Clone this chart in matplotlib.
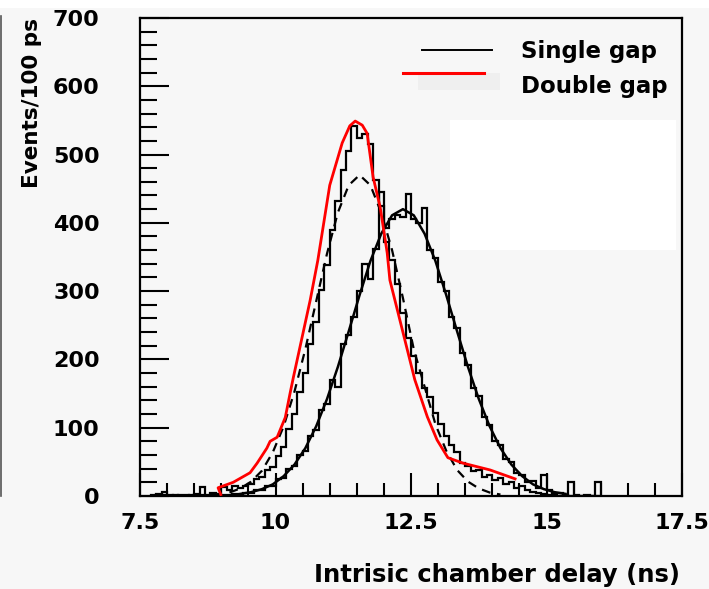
import numpy as np
import matplotlib
matplotlib.use("Agg")
import matplotlib.pyplot as plt
from matplotlib.ticker import MultipleLocator, FixedFormatter, FixedLocator
from matplotlib.patches import Rectangle
from matplotlib.lines import Line2D

# histogram bins (100 ps wide), first bin starts at 7.7 ns
bin_start = 7.7
bin_width = 0.1

# double gap histogram (left peak)
double_gap = [2, 3, 1,
              1, 0, 2, 1, 0, 3, 13, 2, 4, 3,
              13, 8, 14, 12, 15, 18, 25, 28, 38, 42,
              58, 72, 98, 120, 152, 180, 222, 255, 302, 338,
              390, 432, 478, 505, 542, 524, 530, 516, 462, 425,
              372, 345, 310, 268, 232, 205, 180, 158, 145, 122,
              105, 88, 74, 64, 48, 44, 36, 38, 28, 30,
              24, 26, 18, 20, 12, 14, 8, 6, 4, 3,
              2, 1, 0, 1, 0, 0, 0, 0, 0, 0]

# single gap histogram (right peak)
single_gap = [0, 1, 6,
              0, 1, 0, 0, 1, 0, 2, 0, 1, 1,
              2, 1, 3, 2, 5, 4, 9, 8, 14, 15,
              25, 27, 40, 44, 60, 66, 88, 97, 126, 135,
              170, 160, 222, 236, 262, 300, 340, 318, 362, 445,
              392, 405, 412, 408, 442, 406, 400, 422, 360, 348,
              314, 300, 262, 246, 210, 192, 158, 146, 116, 104,
              80, 74, 54, 50, 34, 31, 20, 22, 12, 30,
              9, 5, 4, 2, 20, 1, 0, 1, 0, 20]

# smooth curve drawn over the single gap histogram
fit_x = [9.35, 9.55, 9.75, 9.95, 10.15, 10.35, 10.55, 10.75, 10.95, 11.15,
         11.35, 11.55, 11.75, 11.95, 12.15, 12.35, 12.55, 12.75, 12.95, 13.15,
         13.35, 13.55, 13.75, 13.95, 14.15, 14.35, 14.55, 14.75, 14.95, 15.15, 15.35]
fit_y = [3, 5.5, 10, 17, 29, 46, 70, 102, 142, 189,
         241, 294, 344, 384, 411, 420, 411, 384, 344, 294,
         241, 189, 142, 102, 70, 46, 29, 17, 10, 5.5, 3]

# dashed curve
dash_x = [9.15, 9.35, 9.55, 9.75, 9.95, 10.15, 10.35, 10.55, 10.75, 10.95,
          11.15, 11.35, 11.55, 11.75, 11.95, 12.15, 12.35, 12.55, 12.75, 12.95,
          13.15, 13.35, 13.55, 13.75, 13.95, 14.15]
dash_y = [5, 11, 21, 37, 64, 102, 153, 215, 285, 355,
          415, 455, 470, 455, 415, 360, 290, 215, 160, 105,
          66, 38, 21, 11, 5, 2]

# red curve (double gap)
red_x = [8.99, 8.94, 9.22, 9.53, 9.66, 9.84, 9.90, 10.03, 10.18, 10.27,
         10.33, 10.64, 10.78, 11.0, 11.23, 11.37, 11.47, 11.6, 11.69, 11.74,
         11.8, 11.93, 12.06, 12.11, 12.57, 12.8, 12.98, 13.18, 13.46, 13.96, 14.42]
red_y = [2, 12, 20, 34, 48, 70, 80, 86, 115, 151,
         174, 287, 345, 455, 517, 542, 549, 543, 531, 502,
         467, 423, 356, 316, 170, 116, 82, 56, 48, 38, 25]

xticks = [7.5, 10, 12.5, 15, 17.5]
xtick_labels = ["7.5", "10", "12.5", "15", "17.5"]
yticks = [0, 100, 200, 300, 400, 500, 600, 700]

plt.rcParams['font.family'] = ['DejaVu Sans']
plt.rcParams['font.size'] = 16
plt.rcParams['font.weight'] = 'bold'

bg = '#f7f7f7'
fig = plt.figure(figsize=(7.09, 5.89), dpi=100, facecolor=bg)
ax = fig.add_axes([0.1975, 0.158, 0.7645, 0.8115])
ax.set_facecolor(bg)

edges_d = bin_start + bin_width * np.arange(len(double_gap) + 1)
edges_s = bin_start + bin_width * np.arange(len(single_gap) + 1)
ax.stairs(double_gap, edges_d, color='black', linewidth=1.6)
ax.stairs(single_gap, edges_s, color='black', linewidth=1.6)
ax.plot(fit_x, fit_y, color='black', linewidth=1.8)
ax.plot(dash_x, dash_y, color='black', linewidth=1.6, linestyle=(0, (4, 3)))
ax.plot(red_x, red_y, color='#ff0000', linewidth=2.0, zorder=5)

ax.set_xlim(7.5, 17.5)
ax.set_ylim(0, 700)
ax.xaxis.set_major_locator(FixedLocator(xticks))
ax.xaxis.set_major_formatter(FixedFormatter(xtick_labels))
ax.xaxis.set_minor_locator(MultipleLocator(0.5))
ax.yaxis.set_major_locator(FixedLocator(yticks))
ax.yaxis.set_minor_locator(MultipleLocator(20))

ax.tick_params(which='both', direction='in', top=False, right=False, width=1.5)
ax.tick_params(axis='y', which='major', length=21, pad=29)
ax.tick_params(axis='y', which='minor', length=12.5)
ax.tick_params(axis='x', which='major', length=16.5, pad=12)
ax.tick_params(axis='x', which='minor', length=9.5)
for s in ax.spines.values():
    s.set_linewidth(1.6)

ax.set_ylabel('Events/100 ps', loc='top', fontsize=15.5, fontweight='bold')
ax.yaxis.set_label_coords(-0.181, 1.0)
ax.set_xlabel('Intrisic chamber delay (ns)', loc='right', fontsize=17.5,
              fontweight='bold')
ax.xaxis.set_label_coords(0.996, -0.14)

# legend, drawn like the original
ax.add_patch(Rectangle((0.513, 0.849), 0.151, 0.036, transform=ax.transAxes,
                       facecolor='#efefef', edgecolor='none'))
ax.add_line(Line2D([0.520, 0.649], [0.933, 0.933], transform=ax.transAxes,
                   color='black', linewidth=1.4))
ax.add_line(Line2D([0.485, 0.635], [0.885, 0.885], transform=ax.transAxes,
                   color='#ff0000', linewidth=2.2))
ax.text(0.703, 0.929, 'Single gap', transform=ax.transAxes, va='center', ha='left',
        fontsize=16.5)
ax.text(0.703, 0.856, 'Double gap', transform=ax.transAxes, va='center', ha='left',
        fontsize=16.5)

# white box and frame edge of neighbouring pad
fig.add_artist(Rectangle((0.635, 0.5756), 0.319, 0.2207, transform=fig.transFigure,
                         facecolor='white', edgecolor='none'))
fig.add_artist(Rectangle((0, 0.986), 1, 0.014, transform=fig.transFigure,
                         facecolor='white', edgecolor='none'))
fig.add_artist(Line2D([0.002, 0.002], [0.158, 0.972], transform=fig.transFigure,
                      color='#555555', linewidth=1.2))

fig.savefig('out.png', dpi=100, facecolor=bg)
